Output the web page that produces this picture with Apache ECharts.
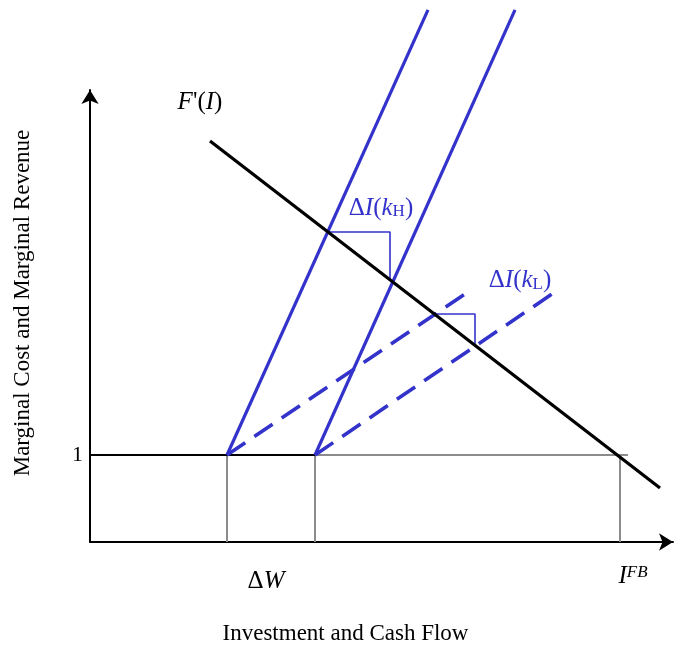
<!DOCTYPE html>
<html>
<head>
<meta charset="utf-8">
<script src="https://cdn.jsdelivr.net/npm/echarts@6/dist/echarts.min.js"></script>
<style>html,body{margin:0;padding:0;background:#fff}#c{width:674px;height:650px}</style>
</head>
<body>
<div id="c"></div>
<script>
// ---- data (x: investment units, y: marginal cost / revenue units) ----
const marginalRevenue = [[1.20, 4.609], [5.70, 0.621]];      // F'(I)
const costHighSolid1 = [[1.37, 1], [3.38, 6.115]];
const costHighSolid2 = [[2.25, 1], [4.25, 6.115]];
const costLowDashed1 = [[1.37, 1], [3.78, 2.874]];
const costLowDashed2 = [[2.25, 1], [4.65, 2.874]];
const unitLineBlack = [[0, 1], [2.25, 1]];
const unitLineGray = [[2.25, 1], [5.38, 1]];
const dropW1 = [[1.37, 0], [1.37, 1]];
const dropW2 = [[2.25, 0], [2.25, 1]];
const dropFB = [[5.30, 0], [5.30, 1]];
const deltaKH = [[2.38, 3.563], [3.00, 3.563], [3.00, 3.023]];
const deltaKL = [[3.45, 2.621], [3.85, 2.621], [3.85, 2.264]];
const yTickLabels = {1: '1'};
const annotations = [
  {pos: [1.10, 5.057], text: "{it|F}{rm|'(}{it|I}{rm|)}", color: '#000'},
  {pos: [2.91, 3.839], text: "{rm|Δ}{it|I}{rm|(}{it|k}{sub|H}{rm|)}", color: '#3333cc'},
  {pos: [4.30, 3.010], text: "{rm|Δ}{it|I}{rm|(}{it|k}{sub|L}{rm|)}", color: '#3333cc'},
  {pos: [1.76, -0.448], text: "{rm|Δ}{it|W}", color: '#000'},
  {pos: [5.43, -0.400], text: "{it|I}{sup|FB}", color: '#000'}
];

const FONT = 'Liberation Serif';
const BLUE = '#3333cc';
const GRAY = '#8c8c8c';

function lineSeries(data, color, width, type) {
  return {
    type: 'line', data: data, symbol: 'none', clip: false, silent: true,
    lineStyle: {color: color, width: width, type: type || 'solid', cap: 'butt'},
    z: 3
  };
}
function richFor(color) {
  const base = {fontFamily: FONT, color: color, textBorderWidth: 0, textBorderColor: 'transparent'};
  return {
    it: Object.assign({}, base, {fontStyle: 'italic', fontSize: 25}),
    rm: Object.assign({}, base, {fontSize: 25}),
    sub: Object.assign({}, base, {fontSize: 17, verticalAlign: 'bottom', padding: [7, 0, 0, 0]}),
    sup: Object.assign({}, base, {fontStyle: 'italic', fontSize: 17, verticalAlign: 'top', padding: [0, 0, 7, 0]})
  };
}

const chart = echarts.init(document.getElementById('c'), null, {renderer: 'canvas'});
chart.setOption({
  animation: false,
  backgroundColor: '#fff',
  grid: {left: 90, right: 1, top: 90, bottom: 108, containLabel: false, outerBoundsMode: 'none'},
  xAxis: {
    type: 'value', min: 0, max: 5.83,
    name: 'Investment and Cash Flow', nameLocation: 'middle', nameGap: 80,
    nameTextStyle: {fontFamily: FONT, fontSize: 23, color: '#000', padding: [0, 72, 0, 0]},
    axisLine: {show: true, lineStyle: {color: '#000', width: 2}, symbol: ['none', 'arrow'], symbolSize: [13, 14]},
    axisTick: {show: false}, axisLabel: {show: false}, splitLine: {show: false}
  },
  yAxis: {
    type: 'value', min: 0, max: 5.195, interval: 1,
    name: 'Marginal Cost and Marginal Revenue', nameLocation: 'middle', nameGap: 56,
    nameTextStyle: {fontFamily: FONT, fontSize: 23, color: '#000', padding: [0, 0, 0, 26]},
    axisLine: {show: true, lineStyle: {color: '#000', width: 2}, symbol: ['none', 'arrow'], symbolSize: [13, 14]},
    axisTick: {show: false}, splitLine: {show: false},
    axisLabel: {
      show: true, margin: 7, fontFamily: FONT, fontSize: 22, color: '#000',
      formatter: v => yTickLabels[v] || ''
    }
  },
  series: [
    lineSeries(unitLineGray, GRAY, 2),
    lineSeries(dropW1, GRAY, 2),
    lineSeries(dropW2, GRAY, 2),
    lineSeries(dropFB, GRAY, 2),
    lineSeries(unitLineBlack, '#000', 2),
    lineSeries(deltaKH, BLUE, 1.6),
    lineSeries(deltaKL, BLUE, 1.6),
    lineSeries(costHighSolid1, BLUE, 3.2),
    lineSeries(costHighSolid2, BLUE, 3.2),
    lineSeries(costLowDashed1, BLUE, 3.6, [22, 11]),
    lineSeries(costLowDashed2, BLUE, 3.6, [22, 11]),
    lineSeries(marginalRevenue, '#000', 3.2),
    {
      type: 'scatter', symbolSize: 0, clip: false, silent: true, z: 5,
      itemStyle: {color: 'transparent', opacity: 1},
      data: annotations.map(a => ({
        value: a.pos,
        label: {show: true, position: 'inside', color: a.color, textBorderWidth: 0, textBorderColor: 'transparent',
                formatter: a.text, rich: richFor(a.color)}
      }))
    }
  ]
});
</script>
</body>
</html>
